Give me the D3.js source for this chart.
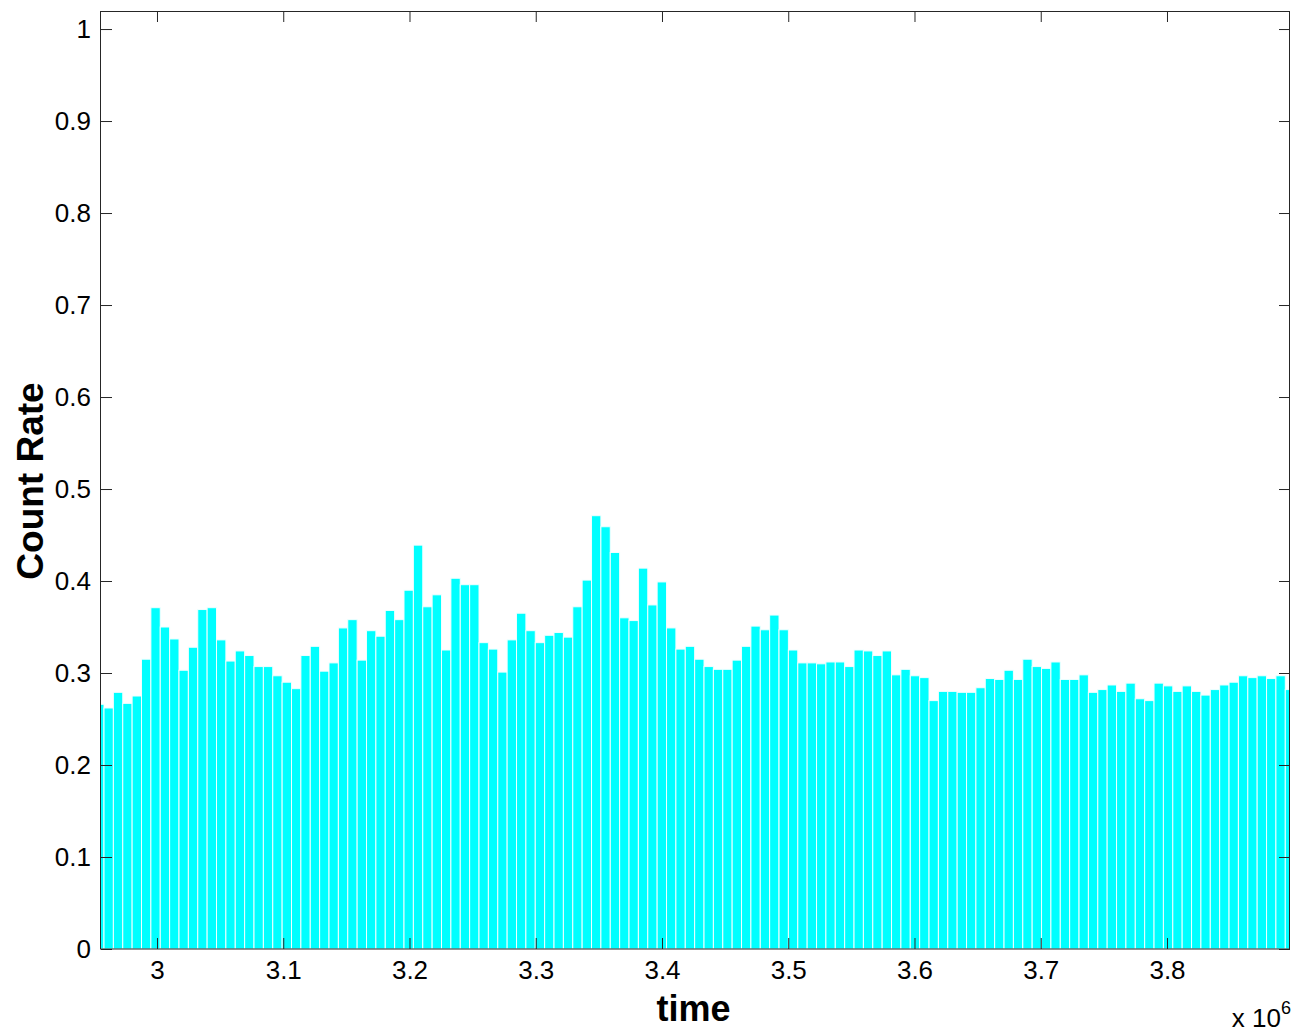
<!DOCTYPE html>
<html>
<head>
<meta charset="utf-8">
<script src="https://cdn.jsdelivr.net/npm/d3@7"></script>
<style>
    body { margin: 0; background: #fff; }
    svg text { font-family: "Liberation Sans", Arial, Helvetica, sans-serif; }
</style>
</head>
<body>
<script>
(function() {
    "use strict";

    // count rate per time bin (first and last bins are cut by the axes)
    var countRate = [
        0.266, 0.262, 0.279, 0.267, 0.275, 0.315, 0.371, 0.350, 0.337, 0.303,
        0.328, 0.369, 0.371, 0.336, 0.313, 0.324, 0.319, 0.307, 0.307, 0.297,
        0.290, 0.283, 0.319, 0.329, 0.302, 0.311, 0.349, 0.358, 0.314, 0.346,
        0.340, 0.368, 0.358, 0.390, 0.439, 0.372, 0.385, 0.325, 0.403, 0.396,
        0.396, 0.333, 0.326, 0.301, 0.336, 0.365, 0.346, 0.333, 0.341, 0.344,
        0.339, 0.372, 0.401, 0.471, 0.459, 0.431, 0.360, 0.357, 0.414, 0.374,
        0.399, 0.349, 0.326, 0.329, 0.315, 0.307, 0.304, 0.304, 0.314, 0.329,
        0.351, 0.347, 0.363, 0.347, 0.325, 0.311, 0.311, 0.310, 0.312, 0.312,
        0.307, 0.325, 0.324, 0.319, 0.324, 0.298, 0.304, 0.297, 0.295, 0.270,
        0.280, 0.280, 0.279, 0.279, 0.284, 0.294, 0.293, 0.303, 0.293, 0.315,
        0.307, 0.305, 0.312, 0.293, 0.293, 0.298, 0.279, 0.282, 0.287, 0.280,
        0.289, 0.272, 0.270, 0.289, 0.286, 0.280, 0.286, 0.280, 0.276, 0.282,
        0.287, 0.290, 0.297, 0.295, 0.297, 0.294, 0.297, 0.282
    ];
    var firstBinCenter = 2954307,
        binWidth = 7426;
    var timeRange = [2955644, 3897426];
    var yMax = 1.0196;
    var xTicks = [3.0e6, 3.1e6, 3.2e6, 3.3e6, 3.4e6, 3.5e6, 3.6e6, 3.7e6, 3.8e6];
    var yTicks = [0, 0.1, 0.2, 0.3, 0.4, 0.5, 0.6, 0.7, 0.8, 0.9, 1];

    var width = 1295,
        height = 1034,
        left = 101,
        right = 1290,
        top = 11,
        bottom = 949,
        tickLen = 11;

    var bins = countRate.map(function(d, i) {
        return { t: firstBinCenter + i * binWidth, v: d };
    });

    var xScale = d3.scaleLinear().domain(timeRange).range([left, right]);
    var yScale = d3.scaleLinear().domain([0, yMax]).range([bottom, top]);

    var svg = d3.select("body").append("svg")
        .attr("width", width)
        .attr("height", height)
        .style("background-color", "#fff");

    svg.append("clipPath")
        .attr("id", "plotClip")
        .append("rect")
            .attr("x", left)
            .attr("y", top)
            .attr("width", right - left)
            .attr("height", bottom - top);

    svg.append("g")
        .attr("clip-path", "url(#plotClip)")
        .selectAll("rect")
            .data(bins)
            .enter().append("rect")
                .style("fill", "#00ffff")
                .style("stroke", "#f0ffff")
                .style("stroke-width", 1)
                .attr("x", function(d) {
                    return xScale(d.t - binWidth / 2);
                })
                .attr("width", function(d) {
                    return xScale(d.t + binWidth / 2) - xScale(d.t - binWidth / 2);
                })
                .attr("y", function(d) {
                    return yScale(d.v);
                })
                .attr("height", function(d) {
                    return yScale(0) - yScale(d.v);
                });

    function styleAxis(g) {
        g.select(".domain").remove();
        g.selectAll(".tick line").attr("stroke", "#262626");
        g.selectAll(".tick text")
            .attr("fill", "#000")
            .style("font-size", "26px");
    }

    svg.append("g")
        .attr("transform", "translate(0," + bottom + ")")
        .call(d3.axisBottom(xScale)
            .tickValues(xTicks)
            .tickSizeInner(-tickLen)
            .tickSizeOuter(0)
            .tickPadding(12)
            .tickFormat(function(d) { return String(+(d / 1e6).toFixed(1)); }))
        .call(styleAxis);

    svg.append("g")
        .attr("transform", "translate(0," + top + ")")
        .call(d3.axisTop(xScale)
            .tickValues(xTicks)
            .tickSizeInner(-tickLen)
            .tickSizeOuter(0)
            .tickFormat(""))
        .call(styleAxis);

    svg.append("g")
        .attr("transform", "translate(" + left + ",0)")
        .call(d3.axisLeft(yScale)
            .tickValues(yTicks)
            .tickSizeInner(-tickLen)
            .tickSizeOuter(0)
            .tickPadding(10)
            .tickFormat(function(d) { return String(+d.toFixed(1)); }))
        .call(styleAxis);

    svg.append("g")
        .attr("transform", "translate(" + right + ",0)")
        .call(d3.axisRight(yScale)
            .tickValues(yTicks)
            .tickSizeInner(-tickLen)
            .tickSizeOuter(0)
            .tickFormat(""))
        .call(styleAxis);

    svg.append("rect")
        .attr("x", left - 0.5)
        .attr("y", top + 0.5)
        .attr("width", right - left)
        .attr("height", bottom - top - 0.5)
        .style("fill", "none")
        .style("stroke", "#262626")
        .style("stroke-width", 1);

    svg.append("text")
        .attr("x", (left + right) / 2 - 2)
        .attr("y", 1021)
        .attr("text-anchor", "middle")
        .style("font-size", "36px")
        .style("font-weight", "bold")
        .text("time");

    svg.append("text")
        .attr("transform", "translate(43,481) rotate(-90)")
        .attr("text-anchor", "middle")
        .style("font-size", "37px")
        .style("font-weight", "bold")
        .text("Count Rate");

    var expo = svg.append("text")
        .attr("x", 1291)
        .attr("y", 1027)
        .attr("text-anchor", "end")
        .style("font-size", "26px");
    expo.append("tspan").text("x 10");
    expo.append("tspan")
        .attr("dy", -13)
        .style("font-size", "18px")
        .text("6");
})();
</script>
</body>
</html>
